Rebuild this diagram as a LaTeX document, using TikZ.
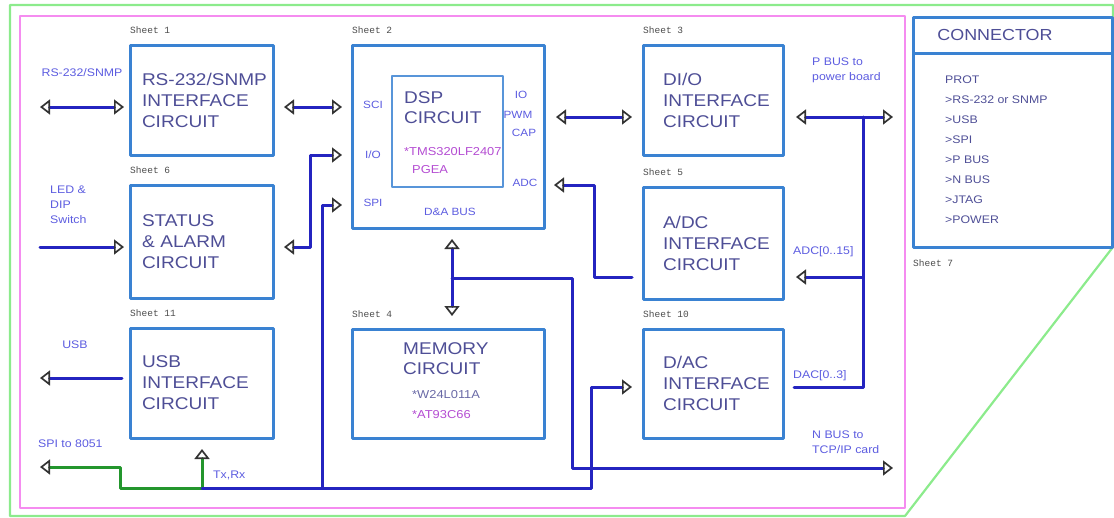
\documentclass[tikz,border=0pt]{standalone}
\usepackage{fontspec}
\setmainfont{Liberation Sans}[FakeStretch=1.12]
\newfontfamily\sheetfont{Liberation Mono}
\usetikzlibrary{arrows.meta}
\usetikzlibrary{calc}

\definecolor{boxblue}{HTML}{3A82D2}
\definecolor{busblue}{HTML}{2424C0}
\definecolor{txtblue}{HTML}{4E4E96}
\definecolor{lblblue}{HTML}{5C5CE0}
\definecolor{partpink}{HTML}{B44CD2}
\definecolor{tipgray}{HTML}{333333}
\definecolor{wiregreen}{HTML}{23962D}
\definecolor{framepink}{HTML}{F58CF0}
\definecolor{framegreen}{HTML}{8CEB8C}

\tikzset{
	block/.style={draw=boxblue, line width=3pt, outer sep=0pt, minimum width=143, minimum height=110, inner xsep=12pt, inner ysep=0pt, text width=119, align=left, text=txtblue, font=\fontsize{17}{21}\selectfont},
	rblock/.style={block, minimum width=140, inner xsep=20pt, text width=100},
	ttl/.style={inner sep=0pt, align=left, text=txtblue, font=\fontsize{17}{20}\selectfont},
	part/.style={inner sep=0pt, align=left, text=partpink, font=\fontsize{11.5}{18}\selectfont},
	lbl/.style={inner sep=0pt, text=lblblue, font=\fontsize{11}{15}\selectfont},
	port/.style={inner sep=0pt, text=lblblue, font=\fontsize{10.5}{12}\selectfont},
	sheet/.style={inner sep=0pt, anchor=west, text=black!70, font=\sheetfont\fontsize{9.5}{10}\selectfont},
	bus/.style={draw=busblue, line width=3pt},
	gbus/.style={draw=wiregreen, line width=3pt}
}

\begin{document}
\begin{tikzpicture}[x=1pt, y=-1pt, line cap=round, line join=round, >={Triangle[open, length=10pt, width=15pt, line width=1.7pt, color=tipgray]}]
			\useasboundingbox (0,0) rectangle (1114,517);
			% frames
			\draw [framegreen, line width=2.2pt] (10,5) -- (1113,5) -- (1113,247) -- (905,516) -- (10,516) -- cycle;
			\draw [framepink, line width=2.6pt] (20,16) rectangle (905,508);
			% blocks
			\node[block] (rs) at (201.5,100) {\mbox{RS-232/SNMP}\\INTERFACE\\CIRCUIT};
			\node[block, minimum height=113] (status) at (201.5,241.5) {STATUS\\\& ALARM\\CIRCUIT};
			\node[block] (usb) at (201.5,383) {USB\\INTERFACE\\CIRCUIT};
			\node[block, minimum width=192, minimum height=183] (dsp) at (448,136.5) {};
			\node[block, draw=boxblue!85, line width=1.6pt, minimum width=111, minimum height=111, text width=80] (dspcore) at (447.5,131.5) {};
			\node[block, minimum width=192, minimum height=109] (mem) at (448,383.5) {};
			\node[rblock] (dio) at (713,100) {DI/O\\INTERFACE\\CIRCUIT};
			\node[rblock, minimum height=112] (adc) at (713,243) {A/DC\\INTERFACE\\CIRCUIT};
			\node[rblock, minimum height=109] (dac) at (713,383.5) {D/AC\\INTERFACE\\CIRCUIT};
			\node[block, minimum width=199, minimum height=230] (conn) at (1012.5,132) {};
			\draw [boxblue, line width=3pt, line cap=butt] (conn.north west |- 0,53) -- (conn.north east |- 0,53);
			% block texts
			\node[ttl, anchor=west] (dsptitle) at ($(dspcore.west)+(12,-24)$) {DSP\\CIRCUIT};
			\node[part, anchor=west] (dsppart) at ($(dspcore.west)+(12,29)$) {*TMS320LF2407\\\hspace*{8pt}PGEA};
			\node[ttl, anchor=west] (memtitle) at ($(mem.west)+(51,-25)$) {MEMORY\\CIRCUIT};
			\node[part, anchor=west, text=txtblue!85] (mempart) at ($(mem.west)+(60,11)$) {*W24L011A};
			\node[part, anchor=west] (mempart2) at ($(mem.west)+(60,31)$) {*AT93C66};
			\node[ttl, font=\fontsize{16}{18}\selectfont] (conntitle) at (995,35) {CONNECTOR};
			\node[lbl, anchor=north west, align=left, text=txtblue, font=\fontsize{11}{20}\selectfont] (connlist) at (945,76) {PROT\\>RS-232 or SNMP\\>USB\\>SPI\\>P BUS\\>N BUS\\>JTAG\\>POWER};
			% dsp ports
			\node[port] (sci) at (373,105) {SCI};
			\node[port] (iol) at (373,155) {I/O};
			\node[port] (spip) at (373,203) {SPI};
			\node[port] (iop) at (521,95) {IO};
			\node[port] (pwm) at (518,115) {PWM};
			\node[port] (cap) at (524,133) {CAP};
			\node[port] (adcp) at (525,183) {ADC};
			\node[port] (dabuslbl) at (450,212) {D\&A BUS};
			% sheets
			\node[sheet] (sh1) at ($(rs.north west)+(0,-15)$) {Sheet 1};
			\node[sheet] (sh6) at ($(status.north west)+(0,-15)$) {Sheet 6};
			\node[sheet] (sh11) at ($(usb.north west)+(0,-15)$) {Sheet 11};
			\node[sheet] (sh2) at ($(dsp.north west)+(0,-15)$) {Sheet 2};
			\node[sheet] (sh4) at ($(mem.north west)+(0,-15)$) {Sheet 4};
			\node[sheet] (sh3) at ($(dio.north west)+(0,-15)$) {Sheet 3};
			\node[sheet] (sh5) at ($(adc.north west)+(0,-15)$) {Sheet 5};
			\node[sheet] (sh10) at ($(dac.north west)+(0,-15)$) {Sheet 10};
			\node[sheet] (sh7) at ($(conn.south west)+(0,16)$) {Sheet 7};
			% signal labels
			\node[lbl] (rslbl) at (82,73) {RS-232/SNMP};
			\node[lbl, anchor=north west, align=left] (ledlbl) at (50,186) {LED \&\\DIP\\Switch};
			\node[lbl] (usblbl) at (75,345) {USB};
			\node[lbl, anchor=west] (spilbl) at (38,444) {SPI to 8051};
			\node[lbl, anchor=west] (txlbl) at (213,475) {Tx,Rx};
			\node[lbl, anchor=west, align=left] (pbuslbl) at (812,70) {P BUS to\\power board};
			\node[lbl, anchor=west] (adclbl) at (793,252) {ADC[0..15]};
			\node[lbl, anchor=west] (daclbl) at (793,376) {DAC[0..3]};
			\node[lbl, anchor=west, align=left] (nbuslbl) at (812,442) {N BUS to\\TCP/IP card};
			% free ends and junctions
			\coordinate (rsext) at (40,107);
			\coordinate (ledext) at (40,247);
			\coordinate (usbext) at (40,378);
			\coordinate (spiext) at (40,467);
			\coordinate (txrx) at (202,488);
			\coordinate (spitap) at (322,488);
			\coordinate (dabus) at (452,278);
			\coordinate (nbusext) at (893,468);
			\coordinate (pbusext) at (893,117);
			\coordinate (pbj) at (863,117);
			\coordinate (adcj) at (863,277);
			\coordinate (dacj) at (863,387);
			% left side
			\draw [bus, <->] (rsext) -- ($(rs.west)+(-6,7)$);
			\draw [bus, <->] ($(rs.east)+(11,7)$) -- ($(rs.east -| dsp.west)+(-10,7)$);
			\draw [bus, <->] ($(status.east)+(11,5.5)$) -| ($(dsp.west)+(-42,18.5)$) -- ($(dsp.west)+(-10,18.5)$);
			\draw [bus, ->] (ledext) -- ($(status.west)+(-6,5.5)$);
			\draw [bus, ->] ($(usb.west)+(-8,-5)$) -- (usbext);
			% serial bus
			\draw [gbus, <-] (spiext) -| ($(txrx)+(-82,0)$) -- (txrx);
			\draw [gbus, ->] (txrx) -- ($(usb.south)+(0.5,11)$);
			\draw [bus] (txrx) -- (spitap);
			\draw [bus, ->] (spitap) |- ($(dsp.west)+(-10,68.5)$);
			\draw [bus, ->] (spitap) -| ($(dac.west)+(-52,3.5)$) -- ($(dac.west)+(-11,3.5)$);
			% dsp to right side
			\draw [bus, <->] ($(dsp.east |- dio.east)+(12,17)$) -- ($(dio.west)+(-11,17)$);
			\draw [bus, ->] ($(adc.west)+(-11,34)$) -| ($(dsp.east)+(50,48.5)$) -- ($(dsp.east)+(10,48.5)$);
			% data and address bus
			\draw [bus, <->] ($(dsp.south)+(4,11)$) -- ($(mem.north)+(4,-13)$);
			\draw [bus, ->] (dabus) -| ($(nbusext)+(-321,0)$) -- (nbusext);
			% p bus
			\draw [bus, <->] ($(dio.east)+(13,17)$) -- (pbusext);
			\draw [bus] (pbj) -- (dacj) -- ($(dac.east)+(11,3.5)$);
			\draw [bus, ->] (adcj) -- ($(adc.east)+(13,34)$);
		\end{tikzpicture}
\end{document}
